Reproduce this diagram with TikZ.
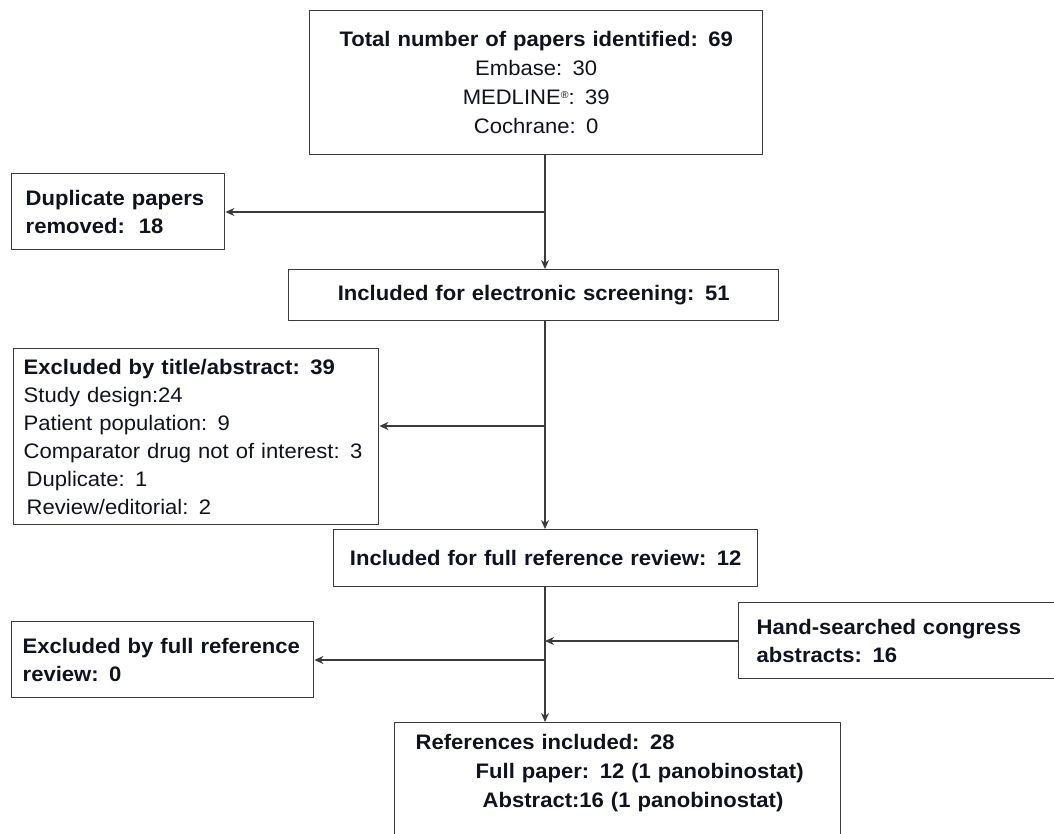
\documentclass[tikz,border=0pt]{standalone}
\usepackage{fontspec}
\setmainfont{Liberation Sans}[FakeStretch=1.05]
\usetikzlibrary{arrows.meta}
\definecolor{boxline}{HTML}{3A3A3A}
\definecolor{txtcol}{HTML}{10131F}
\tikzset{
  flowbox/.style={draw=boxline, line width=1.4pt, rectangle, anchor=north west,
    inner ysep=0pt, text=txtcol, font=\fontsize{21}{28}\selectfont},
  leftbox/.style={flowbox, align=left},
  midbox/.style={flowbox, align=center},
  link/.style={draw=boxline, line width=1.4pt, ->},
}
\newcommand{\regmark}{\raisebox{6pt}{\fontsize{10}{10}\selectfont ®}}
\begin{document}
\begin{tikzpicture}[x=1pt, y=-1pt, line join=round, >={Stealth[length=9pt,width=8pt]}]
		\useasboundingbox (0,0) rectangle (1054,833);
		\clip (0,0) rectangle (1054,833);
		% boxes
		\node[midbox, minimum height=144pt, text width=441pt, inner xsep=6pt,
		font=\fontsize{21}{29}\selectfont] (total) at (309,10)
		{\textbf{Total number of papers identified: 69}\\Embase: 30\\MEDLINE\regmark: 39\\Cochrane: 0};
		\node[leftbox, minimum height=76pt, text width=185pt, inner xsep=14pt] (dup) at (11,173)
		{\textbf{Duplicate papers}\\\textbf{removed:\ \ 18}};
		\node[midbox, minimum height=51pt, text width=478pt, inner xsep=6pt] (elec) at (288,269)
		{\textbf{Included for electronic screening: 51}};
		\node[leftbox, minimum height=176pt, text width=345pt, inner xsep=10pt] (excl) at (13,348)
		{\textbf{Excluded by title/abstract: 39}\\Study design:24\\Patient population: 9\\
		Comparator drug not of interest: 3\\\hspace*{3pt}Duplicate: 1\\\hspace*{3pt}Review/editorial: 2};
		\node[midbox, minimum height=57pt, text width=412pt, inner xsep=6pt] (full) at (333,529)
		{\textbf{Included for full reference review: 12}};
		\node[leftbox, minimum height=76pt, text width=280pt, inner xsep=11pt] (exfull) at (11,621)
		{\textbf{Excluded by full reference}\\\textbf{review: 0}};
		\node[leftbox, minimum height=76pt, text width=294pt, inner xsep=18pt] (hand) at (738,602)
		{\textbf{Hand-searched congress}\\\textbf{abstracts: 16}};
		\node[leftbox, inner ysep=12pt, text width=404pt, inner xsep=21pt, text depth=100pt,
		font=\fontsize{21}{29}\selectfont\bfseries] (refs) at (394,722)
		{References included: 28\\\hspace*{60pt}Full paper: 12 (1 panobinostat)\\\hspace*{67pt}Abstract:16 (1 panobinostat)};
		% connectors
		\coordinate (j1) at (545,212);
		\coordinate (j2) at (545,426);
		\coordinate (j3) at (545,641);
		\coordinate (j4) at (545,660);
		\draw[link] (total.south -| j1) -- (elec.north -| j1);
		\draw[link] (j1) -- (dup.east |- j1);
		\draw[link] (elec.south -| j2) -- (full.north -| j2);
		\draw[link] (j2) -- (excl.east |- j2);
		\draw[link] (full.south -| j3) -- (refs.north -| j3);
		\draw[link] (hand.west |- j3) -- (j3);
		\draw[link] (j4) -- (exfull.east |- j4);
	\end{tikzpicture}
\end{document}
